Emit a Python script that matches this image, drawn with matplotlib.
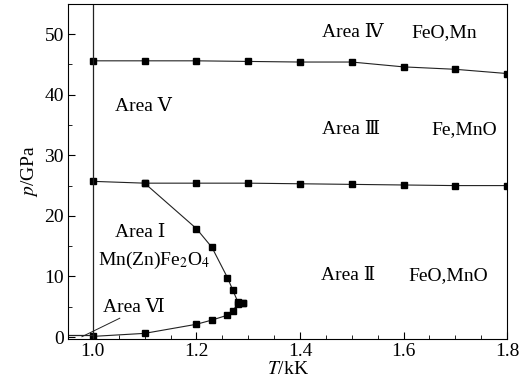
import numpy as np
import matplotlib.pyplot as plt
from matplotlib.ticker import MultipleLocator

plt.rcParams['font.family'] = ['Liberation Serif', 'DejaVu Serif', 'DejaVu Sans']
plt.rcParams['mathtext.fontset'] = 'stix'
plt.rcParams['font.size'] = 14

# boundary between area IV and area III
t_top = [1.0, 1.1, 1.2, 1.3, 1.4, 1.5, 1.6, 1.7, 1.8]
p_top = [45.6, 45.6, 45.6, 45.5, 45.4, 45.4, 44.6, 44.2, 43.5]

# boundary between area III and area II
t_mid = [1.0, 1.1, 1.2, 1.3, 1.4, 1.5, 1.6, 1.7, 1.8]
p_mid = [25.7, 25.4, 25.4, 25.4, 25.3, 25.2, 25.1, 25.0, 25.0]

# area I upper branch
t_up = [1.1, 1.2, 1.23, 1.26, 1.27, 1.28, 1.29]
p_up = [25.4, 17.9, 14.8, 9.8, 7.8, 5.8, 5.6]

# area I lower branch
t_low = [1.0, 1.1, 1.2, 1.23, 1.26, 1.27, 1.28, 1.29]
p_low = [0.1, 0.6, 2.1, 2.8, 3.6, 4.3, 5.5, 5.6]

fig, ax = plt.subplots(figsize=(5.31, 3.89), dpi=100)
fig.subplots_adjust(left=0.128, right=0.955, bottom=0.129, top=0.99)

style = dict(color='#222222', lw=0.8, marker='s', ms=5, mfc='black', mec='black')
ax.plot(t_top, p_top, **style)
ax.plot(t_mid, p_mid, **style)
ax.plot(t_up, p_up, **style)
ax.plot(t_low, p_low, **style)

ax.axvline(1.0, color='#222222', lw=0.9)
ax.plot([0.952, 1.0], [0.3, 0.3], color='#222222', lw=0.9)

ax.set_xlim(0.952, 1.8)
ax.set_ylim(-0.3, 55)
ax.xaxis.set_major_locator(MultipleLocator(0.2))
ax.xaxis.set_minor_locator(MultipleLocator(0.05))
ax.yaxis.set_major_locator(MultipleLocator(10))
ax.yaxis.set_minor_locator(MultipleLocator(5))
ax.xaxis.set_major_formatter(plt.FormatStrFormatter('%.1f'))
ax.tick_params(which='both', direction='in', top=False, right=False)
ax.tick_params(which='major', length=5, labelsize=14, pad=3)
ax.tick_params(which='minor', length=3)

ax.set_xlabel('$T$/kK', labelpad=1)
ax.set_ylabel('$p$/GPa', labelpad=3)

ax.text(1.442, 50.3, 'Area Ⅳ', va='center')
ax.text(1.615, 50.3, 'FeO,Mn', va='center')
ax.text(1.042, 38.0, 'Area Ⅴ', va='center')
ax.text(1.442, 34.2, 'Area Ⅲ', va='center')
ax.text(1.654, 34.2, 'Fe,MnO', va='center')
ax.text(1.042, 17.3, 'Area Ⅰ', va='center')
ax.text(1.010, 12.7, 'Mn(Zn)Fe$_2$O$_4$', va='center')
ax.text(1.44, 10.2, 'Area Ⅱ', va='center')
ax.text(1.61, 10.2, 'FeO,MnO', va='center')
ax.text(1.019, 4.8, 'Area Ⅵ', va='center')
ax.plot([1.052, 0.979], [3.1, 0.05], color='#222222', lw=0.7)

fig.savefig('out.png', dpi=100)
